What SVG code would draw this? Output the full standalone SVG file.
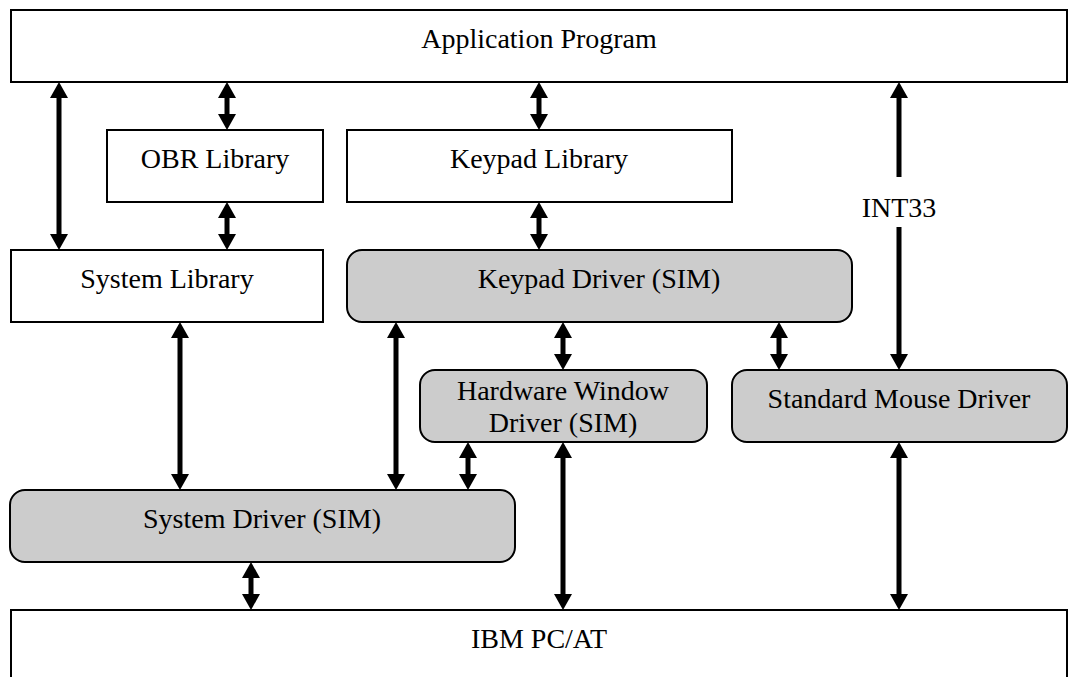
<svg xmlns="http://www.w3.org/2000/svg" width="1069" height="677" viewBox="0 0 1069 677">
<style>
.box{fill:#fff;stroke:#000;stroke-width:2}
.drv{fill:#cccccc;stroke:#000;stroke-width:2}
.t{font-family:"Liberation Serif","Times New Roman",serif;font-size:28px;fill:#000;text-anchor:middle}
.c{stroke:#000;stroke-width:5;fill:none}
.dbl{marker-start:url(#ah);marker-end:url(#ah)}
</style>
<defs>
<marker id="ah" viewBox="0 0 16 18" refX="6" refY="9" markerWidth="16" markerHeight="18" markerUnits="userSpaceOnUse" orient="auto-start-reverse">
<path d="M0,0 L16,9 L0,18 z" fill="#000"/>
</marker>
</defs>
<rect width="1069" height="677" fill="#fff"/>
<g id="app"><rect class="box" x="11" y="10" width="1056" height="72"/><text class="t" x="539" y="48">Application Program</text></g>
<g id="obr"><rect class="box" x="107" y="130" width="216" height="72"/><text class="t" x="215" y="168">OBR Library</text></g>
<g id="keypadlib"><rect class="box" x="347" y="130" width="385" height="72"/><text class="t" x="539" y="168">Keypad Library</text></g>
<g id="syslib"><rect class="box" x="11" y="250" width="312" height="72"/><text class="t" x="167" y="288">System Library</text></g>
<g id="keypaddrv"><rect class="drv" x="347" y="250" width="505" height="72" rx="15"/><text class="t" x="599" y="288">Keypad Driver (SIM)</text></g>
<g id="hwdrv"><rect class="drv" x="420" y="370" width="287" height="72" rx="15"/><text class="t" x="563" y="400">Hardware Window</text><text class="t" x="563" y="432">Driver (SIM)</text></g>
<g id="mouse"><rect class="drv" x="732" y="370" width="335" height="72" rx="15"/><text class="t" x="899" y="408">Standard Mouse Driver</text></g>
<g id="sysdrv"><rect class="drv" x="10" y="490" width="505" height="72" rx="15"/><text class="t" x="262" y="528">System Driver (SIM)</text></g>
<g id="ibm"><rect class="box" x="11" y="610" width="1056" height="72"/><text class="t" x="539" y="648">IBM PC/AT</text></g>
<g id="connectors">
<line class="c dbl" x1="59" y1="92" x2="59" y2="240"/>
<line class="c dbl" x1="227" y1="92" x2="227" y2="120"/>
<line class="c dbl" x1="539" y1="92" x2="539" y2="120"/>
<line class="c" x1="899" y1="92" x2="899" y2="177" marker-start="url(#ah)"/>
<line class="c" x1="899" y1="227" x2="899" y2="360" marker-end="url(#ah)"/>
<text class="t" x="899" y="217">INT33</text>
<line class="c dbl" x1="227" y1="212" x2="227" y2="240"/>
<line class="c dbl" x1="539" y1="212" x2="539" y2="240"/>
<line class="c dbl" x1="180" y1="332" x2="180" y2="480"/>
<line class="c dbl" x1="396" y1="332" x2="396" y2="480"/>
<line class="c dbl" x1="563" y1="332" x2="563" y2="360"/>
<line class="c dbl" x1="779" y1="332" x2="779" y2="360"/>
<line class="c dbl" x1="468" y1="452" x2="468" y2="480"/>
<line class="c dbl" x1="563" y1="452" x2="563" y2="600"/>
<line class="c dbl" x1="251" y1="572" x2="251" y2="600"/>
<line class="c dbl" x1="899" y1="452" x2="899" y2="600"/>
</g>
</svg>
